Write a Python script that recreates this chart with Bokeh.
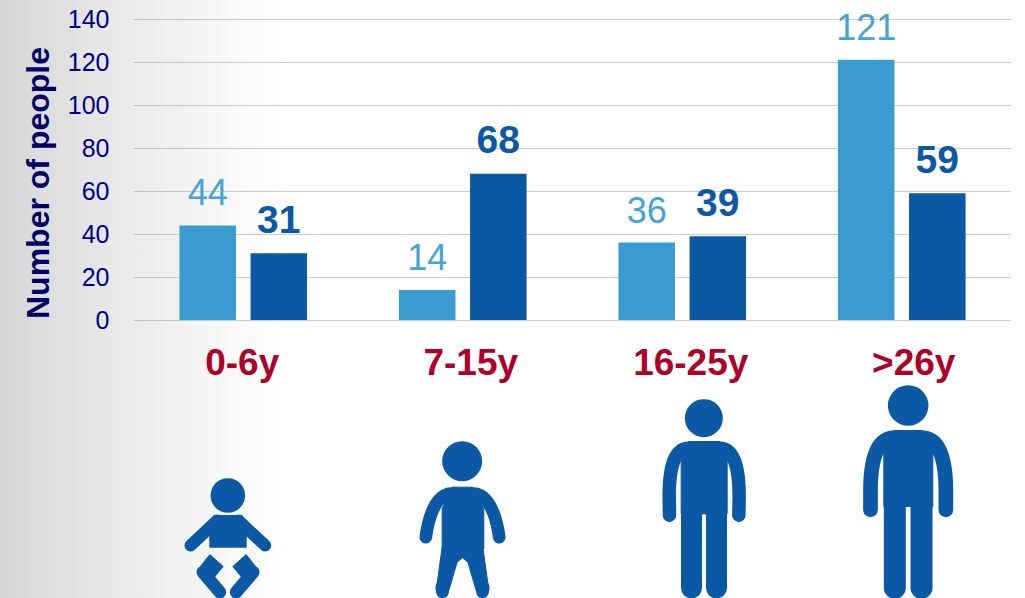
from bokeh.core.properties import value
from bokeh.embed import file_html
from bokeh.models import ColumnDataSource, FixedTicker, InlineStyleSheet, LinearAxis, Range1d, Title
from bokeh.plotting import figure
from bokeh.resources import INLINE
from bokeh.transform import dodge

# Data
age_groups = ["0-6y", "7-15y", "16-25y", ">26y"]
series_a = [44, 14, 36, 121]
series_b = [31, 68, 39, 59]
y_ticks = [0, 20, 40, 60, 80, 100, 120, 140]
y_title = "Number of people"

# Palette and type
LIGHT = "#399BD0"
LIGHT_TEXT = "#45A3D5"
DARK = "#0B58A5"
TICK_COLOR = "#00008B"
TITLE_COLOR = "#000066"
GROUP_COLOR = "#AE0028"
FONT = "Liberation Sans"

# Layout in page pixels
W, H = 1025, 598
LEFT, RIGHT = 133, 1011
ZERO_Y, TOP_Y = 319.5, 18.5
PX_PER_UNIT = (ZERO_Y - TOP_Y) / 140

gradient = InlineStyleSheet(css=":host{background:linear-gradient(to right,#d6d6d6 0px,#ebebeb 130px,#f6f6f6 210px,#ffffff 285px);}")

p = figure(
    width=W, height=H, output_backend="svg", toolbar_location=None,
    x_range=Range1d(-0.5, len(age_groups) - 0.5),
    y_range=Range1d((ZERO_Y - H) / PX_PER_UNIT, ZERO_Y / PX_PER_UNIT),
    x_axis_location=None, y_axis_location=None,
    min_border_left=LEFT, min_border_right=W - RIGHT, min_border_top=0, min_border_bottom=0,
    border_fill_color=None, background_fill_color=None, outline_line_color=None,
    stylesheets=[gradient],
)

# A second pair of ranges in page pixels carries the pictograms
p.extra_x_ranges["px"] = Range1d(LEFT, RIGHT)
p.extra_y_ranges["px"] = Range1d(H, 0)

axis = LinearAxis(
    ticker=FixedTicker(ticks=y_ticks),
    axis_line_color=None, major_tick_line_color=None, minor_tick_line_color=None,
    major_label_text_font=FONT, major_label_text_font_size="25px",
    major_label_text_color=TICK_COLOR, major_label_standoff=18,
)
p.add_layout(axis, "left")

# The axis title runs along the bars' span only, so it is a side title with an offset
p.add_layout(Title(
    text=y_title, align="left", offset=H - ZERO_Y + 1, standoff=18,
    text_font=FONT, text_font_size="32px", text_font_style="bold", text_color=TITLE_COLOR,
), "left")

p.xgrid.visible = False
p.ygrid.ticker = FixedTicker(ticks=y_ticks)
p.ygrid.grid_line_color = "#999999"
p.ygrid.grid_line_dash = "1 1"
p.ygrid.grid_line_width = 1

positions = list(range(len(age_groups)))
source = ColumnDataSource(dict(
    pos=positions, group=age_groups, a=series_a, b=series_b,
    a_text=[str(v) for v in series_a], b_text=[str(v) for v in series_b],
))

BAR_W = 0.2575
OFFSET = 0.162
x_a = dodge("pos", -OFFSET)
x_b = dodge("pos", OFFSET)

p.vbar(x=x_a, top="a", width=BAR_W, bottom=0, source=source, fill_color=LIGHT, line_color=None)
p.vbar(x=x_b, top="b", width=BAR_W, bottom=0, source=source, fill_color=DARK, line_color=None)

p.text(x=x_a, y="a", text="a_text", source=source, y_offset=-33,
       text_align="center", text_baseline="middle", text_color=LIGHT_TEXT,
       text_font=value(FONT), text_font_size="36px")
p.text(x=x_b, y="b", text="b_text", source=source, y_offset=-34,
       text_align="center", text_baseline="middle", text_color=DARK,
       text_font=value(FONT), text_font_size="39px", text_font_style="bold")

# Group names sit under the baseline, each nudged towards its pictogram
nudges = [-1, 8, 8.5, 12]
label_source = ColumnDataSource(dict(pos=positions, group=age_groups, zero=[0] * 4, nudge=nudges))
p.text(x="pos", y="zero", text="group", source=label_source, x_offset="nudge", y_offset=42,
       text_align="center", text_baseline="middle", text_color=GROUP_COLOR,
       text_font=value(FONT), text_font_size="37px", text_font_style="bold")


# Pictograms: outlines are given in third-of-a-pixel units from an origin
def place(origin, pts):
    ox, oy = origin
    return [ox + x / 3 for x, _ in pts], [oy + y / 3 for _, y in pts]


def mirror(pts, axis_x):
    return [(2 * axis_x - x, y) for x, y in pts]


def curve(p0, p1, p2, p3, steps=16):
    pts = []
    for i in range(steps + 1):
        t = i / steps
        u = 1 - t
        pts.append((
            u**3 * p0[0] + 3 * u**2 * t * p1[0] + 3 * u * t**2 * p2[0] + t**3 * p3[0],
            u**3 * p0[1] + 3 * u**2 * t * p1[1] + 3 * u * t**2 * p2[1] + t**3 * p3[1],
        ))
    return pts


def blobs(origin, polys):
    xs, ys = zip(*(place(origin, poly) for poly in polys))
    p.patches(list(xs), list(ys), fill_color=DARK, line_color=DARK, line_width=1,
              line_join="round", x_range_name="px", y_range_name="px")


def limbs(origin, lines, width):
    xs, ys = zip(*(place(origin, line) for line in lines))
    p.multi_line(list(xs), list(ys), line_color=DARK, line_width=width, line_cap="round",
                 line_join="round", x_range_name="px", y_range_name="px")


def head(origin, cx, cy, radius):
    x, y = place(origin, [(cx, cy)])
    p.scatter(x, y, size=2 * radius, marker="circle", fill_color=DARK, line_color=None,
              x_range_name="px", y_range_name="px")


left_origin = (150, 380)
right_origin = (640, 380)

# Baby
head(left_origin, 232, 345, 17.3)
baby_thigh = [(178, 522), (218, 558), (190, 592), (150, 558)]
blobs(left_origin, [
    [(190, 405), (275, 405), (287, 465), (287, 500), (178, 500), (178, 465)],
    baby_thigh,
    mirror(baby_thigh, 232.5),
])
baby_shin = [(157, 575), (208, 635)]
limbs(left_origin, [[(200, 420), (120, 495)], [(264, 420), (344, 495)]], 12)
limbs(left_origin, [baby_shin, mirror(baby_shin, 232.5)], 12.7)

# Child
head(left_origin, 935, 242, 20)
child_arm = curve((905, 339), (860, 339), (835, 400), (826, 470))
blobs(left_origin, [
    [(905, 320), (965, 320), (1000, 385), (1000, 505), (875, 505), (875, 385)],
    [(875, 500), (857, 630), (895, 630), (920, 545), (936, 531), (952, 545), (977, 630), (1015, 630), (997, 500)],
])
limbs(left_origin, [child_arm, mirror(child_arm, 936)], 12.7)
limbs(left_origin, [[(874, 620), (876, 634)], [(998, 620), (996, 634)]], 12.7)

# Teenager
head(right_origin, 190, 113, 19)
teen_arm = curve((145, 203), (95, 203), (86, 280), (86, 350)) + [(87, 404)]
blobs(right_origin, [[(145, 183), (237, 183), (260, 205), (260, 400), (122, 400), (122, 205)]])
limbs(right_origin, [teen_arm, mirror(teen_arm, 191)], 13.5)
limbs(right_origin, [[(153, 395), (153, 622)], [(228, 395), (228, 622)]], 21)

# Adult
head(right_origin, 803, 75, 20.3)
adult_arm = curve((760, 172), (705, 172), (690, 250), (690, 330)) + [(690, 388)]
blobs(right_origin, [[(760, 150), (846, 150), (877, 180), (877, 378), (730, 378), (730, 180)]])
limbs(right_origin, [adult_arm, mirror(adult_arm, 803)], 14.7)
limbs(right_origin, [[(763, 370), (763, 622)], [(843, 370), (843, 622)]], 22)

open("out.html", "w").write(file_html(p, INLINE))
